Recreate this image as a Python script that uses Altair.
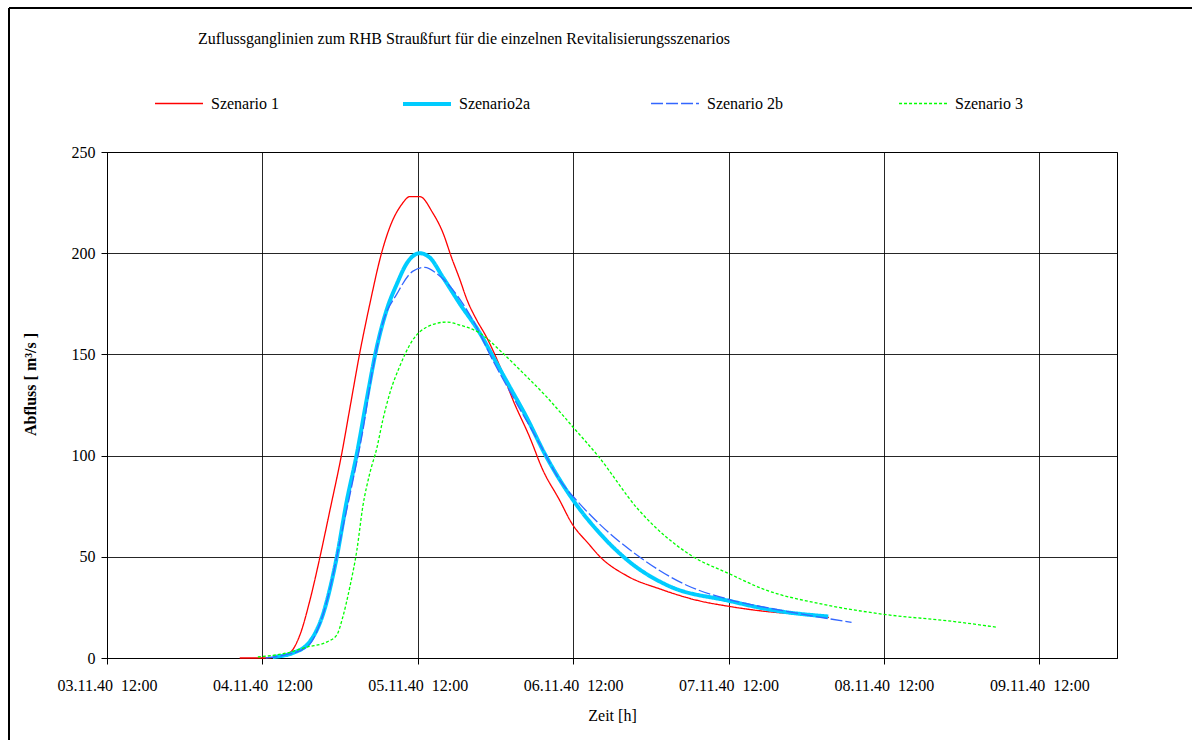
import altair as alt
import pandas as pd

# ---------------- data ----------------
x_tick_hours = [0, 24, 48, 72, 96, 120, 144]
x_tick_labels = ["03.11.40\u00a0 12:00", "04.11.40\u00a0 12:00", "05.11.40\u00a0 12:00",
                 "06.11.40\u00a0 12:00", "07.11.40\u00a0 12:00", "08.11.40\u00a0 12:00",
                 "09.11.40\u00a0 12:00"]
y_ticks = [0, 50, 100, 150, 200, 250]

names = ["Szenario 1", "Szenario2a", "Szenario 2b", "Szenario 3"]
colors = ["#ff0000", "#00ccff", "#3366ff", "#00ff00"]

# hours since 03.11.40 12:00
s1_h = [20.5, 24, 26, 28.2, 29.8, 31.3, 32.9, 34.5, 36.2, 37.6, 39, 40.6, 42.4, 43.7,
        45.5, 46.8, 48.3, 50.3, 51.9, 53.2, 54.5, 55.6, 57.1, 58.6, 60.7, 62.7, 65.3, 67.3,
        69.9, 71.7, 74.5, 76, 80.3, 85.5, 91.4, 96.1, 103.3, 107.8, 111.5]
s1_v = [0, 0, 0.3, 2.5, 11.4, 28, 50, 74, 100, 125, 150, 175, 200, 213,
        224, 228, 228, 220, 210, 198, 187, 177, 167, 158.6, 144, 127.5, 109, 93,
        78, 67, 56, 50.5, 40.6, 34, 28.3, 25.5, 22.5, 21.5, 20]

s2a_h = [25.6, 28.7, 31.3, 33.4, 35.5, 37, 38.6, 40.1, 41.7, 43.2, 44.8, 46.3, 48.3, 49.8,
         51.9, 54.5, 57.6, 59.6, 62.2, 64.8, 67.6, 72, 76, 80.9, 86.7, 96, 103.3, 111.4]
s2a_v = [0.5, 2.5, 8, 22, 50, 77, 101, 127.5, 154, 172, 185, 195, 200, 198,
         188, 175, 160.5, 149, 134, 119, 101, 78, 62, 47, 35.7, 28.3, 23.4, 20.5]

s2b_h = [24.5, 27.5, 30.9, 32.9, 34.4, 36, 38, 39.5, 41, 42.6, 44.8, 47.2, 49.1, 50.9, 53.4,
         56.5, 59.6, 62.7, 66.8, 69.9, 72.5, 75.8, 82, 89.7, 96, 104.4, 115]
s2b_v = [0, 1.5, 5.5, 17, 33.6, 58, 88, 112, 142, 165.5, 180, 191, 193, 190, 182,
         167, 147, 129, 106, 88, 78, 67, 50.5, 35.7, 29, 23.4, 17.6]

s3_h = [23.3, 27.8, 30.9, 34, 35.5, 36.4, 37.5, 38.6, 39.5, 40.6, 41.7, 42.6, 43.7, 45.2,
        47.2, 49.4, 52.5, 54.5, 57.6, 61.1, 64.2, 67.9, 72, 75.8, 82, 90.3, 96.2, 101.4,
        110.3, 119.7, 130.9, 137.4]
s3_v = [0.5, 2.5, 5.4, 8, 11.4, 20, 35, 53.4, 74.6, 91.4, 104, 117.6, 131, 144,
        157, 163.5, 166, 164.5, 160.5, 150.7, 141, 129, 114, 100, 73.6, 50.5, 41.5, 34,
        26.7, 21.7, 18, 15.2]

series = [(names[0], s1_h, s1_v), (names[1], s2a_h, s2a_v),
          (names[2], s2b_h, s2b_v), (names[3], s3_h, s3_v)]
rows = []
for name, hs, vs in series:
    for i, (h, v) in enumerate(zip(hs, vs)):
        rows.append({"Szenario": name, "Stunde": h, "Abfluss": v, "idx": i})
df = pd.DataFrame(rows)

FONT = "Liberation Serif, Times New Roman, serif"
FS = 16
label_expr = "[" + ",".join("'" + l + "'" for l in x_tick_labels) + "][round(datum.value/24)]"

legend = alt.Legend(
    title=None, orient="none", legendX=46, legendY=-74, direction="horizontal",
    symbolType="stroke", symbolSize=2300, labelOffset=6,
    gridAlign="all", columnPadding=108, labelFont=FONT, labelFontSize=FS,
    labelColor="black", columns=4,
)

lines = alt.Chart(df).mark_line(interpolate="monotone").encode(
    x=alt.X("Stunde:Q", scale=alt.Scale(domain=[0, 156], nice=False, zero=False),
            axis=alt.Axis(values=x_tick_hours, labelExpr=label_expr, title="Zeit [h]",
                          grid=True, tickSize=6, labelPadding=13, titlePadding=14,
                          labelFlush=False, labelOverlap=False)),
    y=alt.Y("Abfluss:Q", scale=alt.Scale(domain=[0, 250], nice=False),
            axis=alt.Axis(values=y_ticks, title="Abfluss [ m³/s ]", grid=True, tickSize=6,
                          labelPadding=6, titlePadding=33, titleFontWeight="bold",
                          titleY=232)),
    color=alt.Color("Szenario:N", scale=alt.Scale(domain=names, range=colors), legend=legend),
    strokeDash=alt.StrokeDash("Szenario:N",
                              scale=alt.Scale(domain=names, range=[[1, 0], [1, 0], [12, 3], [3, 2]]),
                              legend=legend),
    strokeWidth=alt.StrokeWidth("Szenario:N",
                                scale=alt.Scale(type="ordinal", domain=names,
                                                range=[1.3, 4, 1.3, 1.3]),
                                legend=legend),
    order="idx:Q",
)

frame_top = alt.Chart(df).mark_rule(color="black", strokeWidth=2, clip=False).encode(
    x=alt.value(-98), x2=alt.value(1090), y=alt.value(-144))
frame_left = alt.Chart(df).mark_rule(color="black", strokeWidth=2, clip=False).encode(
    x=alt.value(-98), y=alt.value(-144), y2=alt.value(600))

chart = alt.layer(lines, frame_top, frame_left).properties(
    width=1010, height=506,
    autosize=alt.AutoSizeParams(type="none"),
    padding={"left": 107, "top": 152, "right": 75, "bottom": 82},
    title=alt.TitleParams(
        text="Zuflussganglinien zum RHB Straußfurt für die einzelnen Revitalisierungsszenarios",
        anchor="start", frame="group", dx=91, offset=-40, font=FONT, fontSize=FS,
        fontWeight="normal", color="black"),
    background="white",
).configure(font=FONT).configure_view(stroke="black", strokeWidth=1).configure_axis(
    labelFont=FONT, labelFontSize=FS, labelColor="black", titleFont=FONT, titleFontSize=FS,
    titleColor="black", domainColor="black", tickColor="black", gridColor="black",
    gridOpacity=0.85, titleFontWeight="normal",
)

chart.save("out.html", embed_options={"renderer": "svg", "actions": False})
